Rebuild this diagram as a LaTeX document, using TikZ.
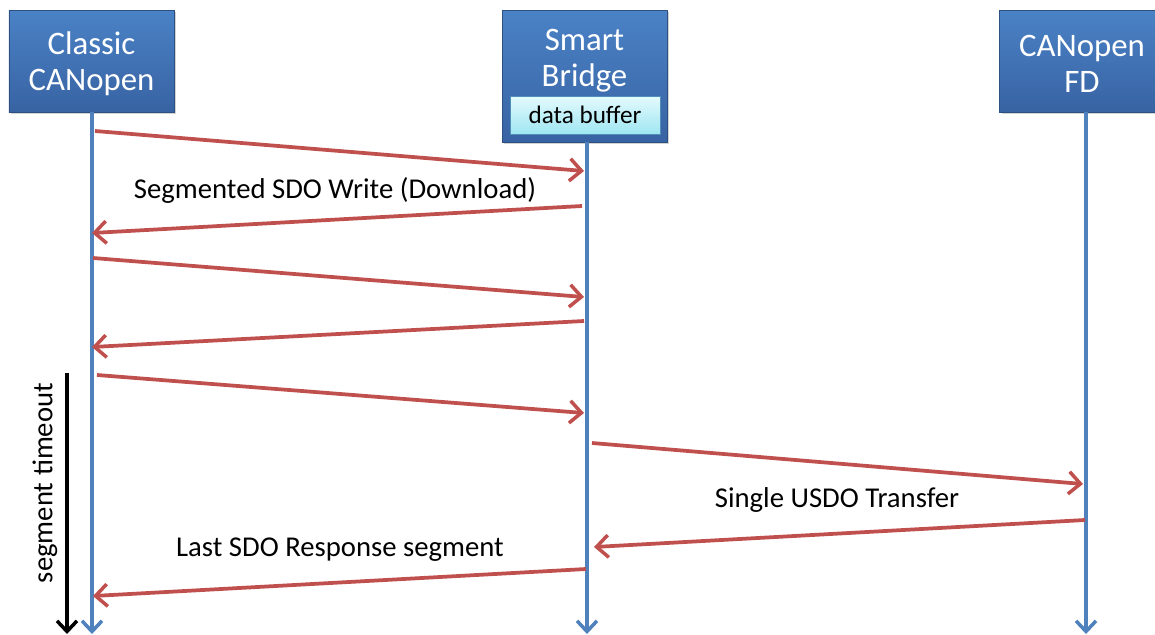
\documentclass[tikz,border=0pt]{standalone}
\usepackage{fontspec}
\setmainfont{Carlito}
\usetikzlibrary{arrows.meta,shadows}
\definecolor{boxtop}{HTML}{4A82C6}
\definecolor{boxbot}{HTML}{3863A3}
\definecolor{lifeblue}{HTML}{4F81BD}
\definecolor{msgred}{HTML}{C0504D}
\definecolor{buftop}{HTML}{E4FAFD}
\definecolor{bufbot}{HTML}{9FE6F2}
\definecolor{bufedge}{HTML}{4F8FB8}
\tikzset{
  party/.style={draw=boxbot!80!black, line width=0.4pt, top color=boxtop, bottom color=boxbot,
    minimum width=4.95cm, drop shadow={shadow xshift=2pt, shadow yshift=-2pt, opacity=0.35},
    inner sep=0pt},
  partytext/.style={text=white, font=\fontsize{28}{31}\selectfont, align=center, inner sep=0pt},
  bufbox/.style={draw=bufedge, line width=0.6pt, top color=buftop, bottom color=bufbot,
    minimum width=4.5cm, minimum height=1.14cm, inner sep=0pt, font=\fontsize{21.5}{24}\selectfont},
  lifeline/.style={draw=lifeblue, line width=3.2pt, -{Straight Barb[length=9pt,width=17pt,line width=3pt]}},
  msg/.style={draw=msgred, line width=3.2pt, -{Straight Barb[length=10pt,width=19pt,line width=3pt]}},
  timer/.style={draw=black, line width=3.2pt, -{Straight Barb[length=9pt,width=17pt,line width=3pt]}},
  msglabel/.style={font=\fontsize{24.5}{28}\selectfont, inner sep=0pt},
}
\begin{document}
\begin{tikzpicture}[x=0.03cm,y=-0.03cm]
\useasboundingbox (0,0) rectangle (1155,634);
\begin{scope}
\clip (0,0) rectangle (1155,634);
% participants
\node[party, minimum height=3.06cm] (classic) at (91.5,61) {};
\node[partytext] (classictxt) at (91.5,64) {Classic\\CANopen};
\node[party, minimum height=3.06cm] (fd) at (1082,61) {};
\node[partytext] (fdtxt) at (1082,64) {CANopen\\FD};
\node[party, minimum height=3.96cm] (bridge) at (584.5,76) {};
\node[partytext] (bridgetxt) at (584.5,61) {Smart\\Bridge};
\node[bufbox] (buffer) at (585,115) {data buffer};
\end{scope}
% lifeline ends
\coordinate (cEnd) at (92,634);
\coordinate (bEnd) at (587,634);
\coordinate (fEnd) at (1086,634);
\draw[lifeline] (classic.south -| cEnd) -- (cEnd);
\draw[lifeline] (bridge.south -| bEnd) -- (bEnd);
\draw[lifeline] (fd.south -| fEnd) -- (fEnd);
% message end points
\coordinate (m1a) at (95,131);  \coordinate (m1b) at (584,171);
\coordinate (m2a) at (582,206); \coordinate (m2b) at (92,233);
\coordinate (m3a) at (93,258);  \coordinate (m3b) at (584,297);
\coordinate (m4a) at (584,321); \coordinate (m4b) at (92,347);
\coordinate (m5a) at (97,375);  \coordinate (m5b) at (584,413);
\coordinate (m6a) at (592,443); \coordinate (m6b) at (1083,484);
\coordinate (m7a) at (1085,520);\coordinate (m7b) at (594,547);
\coordinate (m8a) at (586,569); \coordinate (m8b) at (93,596);
\draw[msg] (m1a) -- (m1b);
\draw[msg] (m2a) -- (m2b);
\draw[msg] (m3a) -- (m3b);
\draw[msg] (m4a) -- (m4b);
\draw[msg] (m5a) -- (m5b);
\draw[msg] (m6a) -- (m6b);
\draw[msg] (m7a) -- (m7b);
\draw[msg] (m8a) -- (m8b);
% labels
\node[msglabel] (l1) at (335,190) {Segmented SDO Write (Download)};
\node[msglabel] (l2) at (837,500) {Single USDO Transfer};
\node[msglabel] (l3) at (340,550) {Last SDO Response segment};
% segment timeout
\coordinate (tA) at (67,373);
\coordinate (tB) at (67,634);
\draw[timer] (tA) -- (tB);
\node[msglabel, rotate=90] (tlabel) at (45,483) {segment timeout};
\end{tikzpicture}
\end{document}
